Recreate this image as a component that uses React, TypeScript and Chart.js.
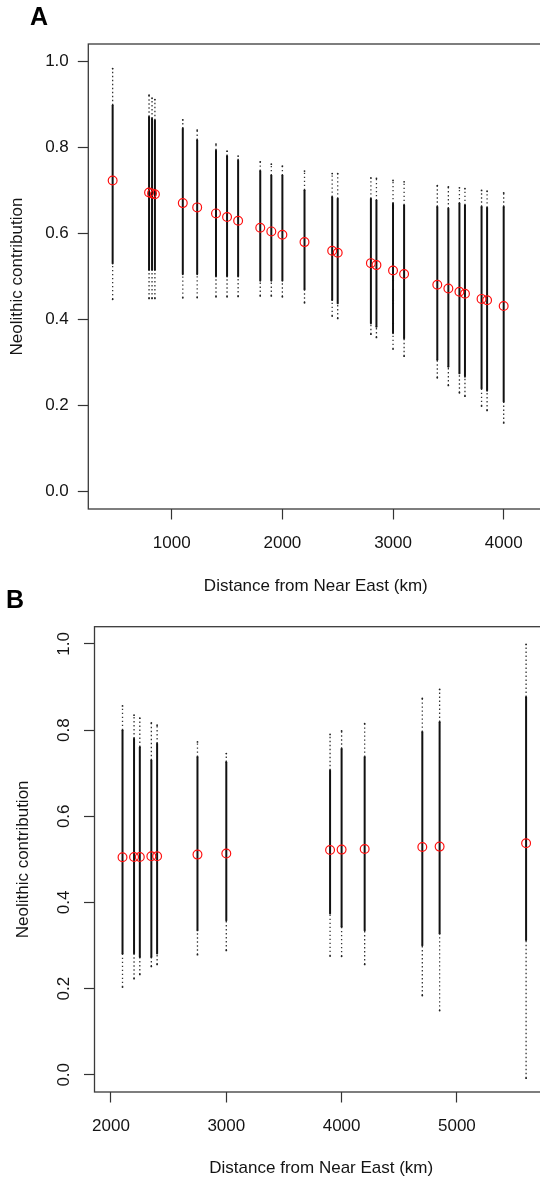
import React, { useEffect, useRef } from "react";
import { Chart, registerables } from "chart.js";

Chart.register(...registerables);

const FONT = "'Liberation Sans', Arial, Helvetica, sans-serif";
const TEXT = "#141414";
const FS = 17;

// ---------- Panel A data ----------
const distA = [466, 795, 822, 848, 1100, 1230, 1400, 1500, 1600, 1800, 1900, 2000, 2200, 2450, 2500, 2800, 2850, 3000, 3100, 3400, 3500, 3600, 3650, 3800, 3850, 4000];
const meanA = [0.723, 0.695, 0.693, 0.691, 0.6705, 0.6605, 0.6465, 0.638, 0.6294, 0.6131, 0.6047, 0.5968, 0.5799, 0.5597, 0.555, 0.531, 0.5265, 0.514, 0.5056, 0.4807, 0.4723, 0.4645, 0.46, 0.448, 0.4447, 0.4313];
const maxA = [0.983, 0.921, 0.914, 0.911, 0.864, 0.84, 0.8075, 0.791, 0.7796, 0.7664, 0.761, 0.7564, 0.7448, 0.739, 0.739, 0.729, 0.728, 0.723, 0.72, 0.711, 0.708, 0.706, 0.704, 0.7, 0.698, 0.694];
const hiA = [0.898, 0.871, 0.867, 0.863, 0.844, 0.817, 0.7935, 0.78, 0.77, 0.7455, 0.735, 0.735, 0.7007, 0.685, 0.681, 0.681, 0.677, 0.67, 0.666, 0.662, 0.658, 0.67, 0.666, 0.662, 0.66, 0.662];
const loA = [0.53, 0.515, 0.515, 0.515, 0.505, 0.505, 0.5, 0.5, 0.5, 0.49, 0.49, 0.49, 0.47, 0.445, 0.4375, 0.391, 0.383, 0.368, 0.356, 0.306, 0.29, 0.275, 0.267, 0.24, 0.2346, 0.209];
const minA = [0.447, 0.449, 0.449, 0.449, 0.4505, 0.451, 0.453, 0.453, 0.4537, 0.455, 0.455, 0.453, 0.439, 0.408, 0.4027, 0.366, 0.3586, 0.3314, 0.315, 0.2648, 0.247, 0.23, 0.222, 0.199, 0.189, 0.16];

// ---------- Panel B data ----------
const distB = [2100, 2200, 2250, 2350, 2400, 2750, 3000, 3900, 4000, 4200, 4700, 4850, 5600];
const meanB = [0.5048, 0.5055, 0.5055, 0.507, 0.507, 0.511, 0.5134, 0.5218, 0.5226, 0.524, 0.5288, 0.5296, 0.5373];
const maxB = [0.856, 0.8346, 0.828, 0.8167, 0.8114, 0.7726, 0.7456, 0.79, 0.798, 0.815, 0.8734, 0.8943, 0.9988];
const hiB = [0.8, 0.7805, 0.761, 0.73, 0.769, 0.738, 0.726, 0.707, 0.757, 0.738, 0.796, 0.819, 0.877];
const loB = [0.281, 0.281, 0.273, 0.273, 0.281, 0.335, 0.358, 0.374, 0.343, 0.335, 0.3, 0.3275, 0.312];
const minB = [0.2035, 0.223, 0.233, 0.2515, 0.256, 0.2787, 0.2887, 0.2755, 0.275, 0.256, 0.184, 0.149, -0.008];

// ---------- Axes ----------
const yTicks = [0, 0.2, 0.4, 0.6, 0.8, 1.0];
const yTickLabels = ["0.0", "0.2", "0.4", "0.6", "0.8", "1.0"];
const xTicksA = [1000, 2000, 3000, 4000];
const xTicksB = [2000, 3000, 4000, 5000];
const xTitle = "Distance from Near East (km)";
const yTitle = "Neolithic contribution";

type Pt = { x: number; y: number | null };

function segs(dist: number[], a: number[], b: number[]): Pt[] {
  const out: Pt[] = [];
  dist.forEach((d, i) => {
    out.push({ x: d, y: a[i] });
    out.push({ x: d, y: b[i] });
    out.push({ x: d, y: null });
  });
  return out;
}

function sparse(dist: number[], mn: number[], lo: number[], hi: number[], mx: number[]): Pt[] {
  return [...segs(dist, mn, lo), ...segs(dist, hi, mx)];
}

const boxPlugin = {
  id: "box",
  beforeDatasetsDraw(chart: any) {
    const { ctx, chartArea: a } = chart;
    ctx.save();
    ctx.strokeStyle = "#3a3a3a";
    ctx.lineWidth = 1.3;
    ctx.strokeRect(a.left, a.top, a.right - a.left, a.bottom - a.top);
    ctx.restore();
  },
};

function rotYPlugin(labelX: number) {
  return {
    id: "rotY",
    afterDraw(chart: any) {
      const s = chart.scales.y;
      const ctx = chart.ctx;
      ctx.save();
      ctx.font = `${FS}px ${FONT}`;
      ctx.fillStyle = TEXT;
      ctx.textAlign = "center";
      ctx.textBaseline = "alphabetic";
      yTicks.forEach((v, i) => {
        const py = s.getPixelForValue(v);
        ctx.save();
        ctx.translate(labelX, py);
        ctx.rotate(-Math.PI / 2);
        ctx.fillText(yTickLabels[i], 0, 0);
        ctx.restore();
      });
      ctx.restore();
    },
  };
}

type PanelOpts = {
  dist: number[];
  mean: number[];
  mx: number[];
  hi: number[];
  lo: number[];
  mn: number[];
  xMin: number;
  xMax: number;
  xTicks: number[];
  yWidth: number;
  xHeight: number;
  padTop: number;
  padRight: number;
  xTickPad: number;
  xTitlePadBottom: number;
  yTitlePadTop: number;
  rotated: boolean;
  rotLabelX: number;
};

function makeConfig(o: PanelOpts): any {
  const tickGrid = {
    display: true,
    drawOnChartArea: false,
    drawTicks: true,
    tickLength: 10.5,
    tickColor: "#333",
    tickWidth: 1.2,
  };
  return {
    type: "scatter",
    data: {
      datasets: [
        {
          label: "mean",
          data: o.dist.map((d, i) => ({ x: d, y: o.mean[i] })),
          showLine: false,
          pointStyle: "circle",
          pointRadius: 4.4,
          pointBorderWidth: 1.2,
          pointBorderColor: "#ff1010",
          pointBackgroundColor: "rgba(0,0,0,0)",
          order: 0,
        },
        {
          label: "dense",
          data: segs(o.dist, o.lo, o.hi),
          showLine: true,
          spanGaps: false,
          borderColor: "#111",
          borderWidth: 2,
          borderCapStyle: "butt",
          pointRadius: 0,
          order: 1,
        },
        {
          label: "sparse",
          data: sparse(o.dist, o.mn, o.lo, o.hi, o.mx),
          showLine: true,
          spanGaps: false,
          borderColor: "#333",
          borderWidth: 1.3,
          borderDash: [1.4, 2.6],
          borderCapStyle: "butt",
          pointRadius: 0.9,
          pointBorderWidth: 0,
          pointBackgroundColor: "#222",
          order: 2,
        },
      ],
    },
    options: {
      responsive: false,
      animation: false,
      devicePixelRatio: 1,
      events: [],
      layout: { padding: { top: o.padTop, right: o.padRight, left: 0, bottom: 0 } },
      plugins: { legend: { display: false }, tooltip: { enabled: false }, title: { display: false } },
      scales: {
        x: {
          type: "linear",
          min: o.xMin,
          max: o.xMax,
          grid: tickGrid,
          border: { display: false },
          afterBuildTicks: (s: any) => {
            s.ticks = o.xTicks.map((v) => ({ value: v }));
          },
          afterFit: (s: any) => {
            s.height = o.xHeight;
          },
          ticks: {
            autoSkip: false,
            maxRotation: 0,
            minRotation: 0,
            padding: o.xTickPad,
            color: TEXT,
            font: { family: FONT, size: FS },
            callback: (v: number) => String(v),
          },
          title: {
            display: true,
            text: xTitle,
            color: TEXT,
            font: { family: FONT, size: FS },
            padding: { top: 0, bottom: o.xTitlePadBottom },
          },
        },
        y: {
          type: "linear",
          min: -0.04,
          max: 1.04,
          grid: tickGrid,
          border: { display: false },
          afterBuildTicks: (s: any) => {
            s.ticks = yTicks.map((v) => ({ value: v }));
          },
          afterFit: (s: any) => {
            s.width = o.yWidth;
          },
          ticks: {
            display: !o.rotated,
            autoSkip: false,
            padding: 9,
            color: TEXT,
            font: { family: FONT, size: FS },
            callback: (_v: number, i: number) => yTickLabels[i],
          },
          title: {
            display: true,
            text: yTitle,
            color: TEXT,
            font: { family: FONT, size: FS },
            padding: { top: o.yTitlePadTop, bottom: 0 },
          },
        },
      },
    },
    plugins: o.rotated ? [boxPlugin, rotYPlugin(o.rotLabelX)] : [boxPlugin],
  };
}

function Panel({ opts, top, height }: { opts: PanelOpts; top: number; height: number }) {
  const ref = useRef<HTMLCanvasElement>(null);
  useEffect(() => {
    const chart = new Chart(ref.current as HTMLCanvasElement, makeConfig(opts));
    return () => chart.destroy();
  }, []);
  return (
    <canvas
      ref={ref}
      width={560}
      height={height}
      style={{ position: "absolute", left: 0, top, width: 560, height }}
    />
  );
}

const optsA: PanelOpts = {
  dist: distA,
  mean: meanA,
  mx: maxA,
  hi: hiA,
  lo: loA,
  mn: minA,
  xMin: 246,
  xMax: 4358,
  xTicks: xTicksA,
  yWidth: 88.3,
  xHeight: 91,
  padTop: 44,
  padRight: 16.7,
  xTickPad: 13.5,
  xTitlePadBottom: 3.8,
  yTitlePadTop: 7.3,
  rotated: false,
  rotLabelX: 0,
};

const optsB: PanelOpts = {
  dist: distB,
  mean: meanB,
  mx: maxB,
  hi: hiB,
  lo: loB,
  mn: minB,
  xMin: 1857,
  xMax: 5790,
  xTicks: xTicksB,
  yWidth: 94.5,
  xHeight: 88,
  padTop: 26.7,
  padRight: 12,
  xTickPad: 14,
  xTitlePadBottom: 1.5,
  yTitlePadTop: 13.5,
  rotated: true,
  rotLabelX: 69.2,
};

const letterStyle: React.CSSProperties = {
  position: "absolute",
  fontFamily: FONT,
  fontWeight: "bold",
  fontSize: 25,
  lineHeight: "25px",
  color: "#000",
  margin: 0,
};

export default function App() {
  return (
    <div
      style={{
        position: "absolute",
        left: 0,
        top: 0,
        width: 540,
        height: 1180,
        overflow: "hidden",
        background: "#fff",
      }}
    >
      <Panel opts={optsA} top={0} height={600} />
      <Panel opts={optsB} top={600} height={580} />
      <div style={{ ...letterStyle, left: 30, top: 3.5 }}>A</div>
      <div style={{ ...letterStyle, left: 6, top: 587 }}>B</div>
    </div>
  );
}
